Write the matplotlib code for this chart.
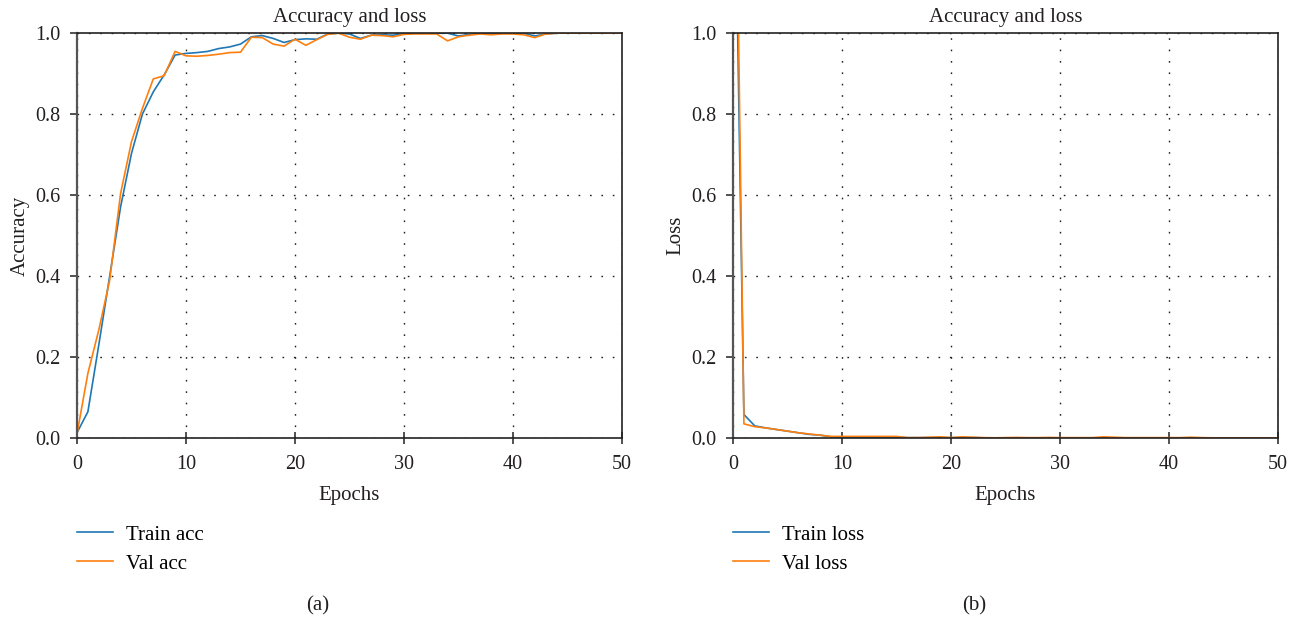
import numpy as np
import matplotlib
matplotlib.use("Agg")
import matplotlib.pyplot as plt

plt.rcParams['font.family'] = ['Liberation Serif', 'DejaVu Serif']

epochs = np.arange(0, 51)

train_acc = [0.013, 0.065, 0.23, 0.40, 0.571, 0.703, 0.80, 0.855, 0.897, 0.946,
             0.950, 0.952, 0.955, 0.962, 0.966, 0.973, 0.991, 0.994, 0.987, 0.977,
             0.984, 0.986, 0.985, 0.998, 1.0, 0.998, 0.987, 0.995, 0.996, 0.995,
             0.999, 1.0, 1.0, 1.0, 1.0, 0.993, 0.997, 1.0, 1.0, 1.0,
             1.0, 1.0, 0.993, 0.998, 1.0, 1.0, 1.0, 1.0, 1.0, 1.0, 1.0]
val_acc = [0.01, 0.16, 0.267, 0.39, 0.604, 0.732, 0.814, 0.887, 0.895, 0.955,
           0.944, 0.943, 0.945, 0.948, 0.952, 0.953, 0.990, 0.989, 0.973, 0.968,
           0.985, 0.970, 0.984, 0.997, 1.0, 0.990, 0.985, 0.995, 0.994, 0.991,
           0.997, 0.998, 0.998, 0.998, 0.981, 0.991, 0.995, 0.998, 0.996, 0.998,
           0.998, 0.996, 0.989, 0.998, 1.0, 1.0, 1.0, 1.0, 1.0, 1.0, 1.0]

train_loss = [1.7, 0.058, 0.030, 0.025, 0.021, 0.017, 0.013, 0.009, 0.007, 0.003,
              0.002, 0.002, 0.002, 0.002, 0.002, 0.002, 0.001, 0.001, 0.001, 0.001,
              0.001, 0.001, 0.001, 0.0005, 0.0005, 0.0005, 0.0005, 0.0005, 0.0005, 0.0005,
              0.0005, 0.0005, 0.0005, 0.0005, 0.0005, 0.0005, 0.0005, 0.0005, 0.0005, 0.0005,
              0.0005, 0.0005, 0.0005, 0.0005, 0.0003, 0.0003, 0.0003, 0.0003, 0.0003, 0.0003, 0.0003]
val_loss = [2.0, 0.035, 0.028, 0.025, 0.021, 0.017, 0.013, 0.010, 0.007, 0.004,
            0.004, 0.004, 0.004, 0.004, 0.004, 0.004, 0.001, 0.001, 0.002, 0.003,
            0.001, 0.003, 0.002, 0.001, 0.0005, 0.001, 0.0015, 0.001, 0.001, 0.0015,
            0.001, 0.001, 0.001, 0.001, 0.003, 0.002, 0.001, 0.001, 0.001, 0.001,
            0.001, 0.001, 0.002, 0.001, 0.0005, 0.0005, 0.0005, 0.0005, 0.0005, 0.0005, 0.0005]

fig = plt.figure(figsize=(13.05, 6.2), dpi=100)
ax1 = fig.add_axes([0.059, 0.2935, 0.4176, 0.653])
ax2 = fig.add_axes([0.5617, 0.2935, 0.4176, 0.653])

panels = [
    (ax1, train_acc, val_acc, "Train acc", "Val acc", "Accuracy", "(a)"),
    (ax2, train_loss, val_loss, "Train loss", "Val loss", "Loss", "(b)"),
]

txt = '#231f20'
for ax, tr, va, ltr, lva, ylab, cap in panels:
    ax.plot(epochs, tr, color='#1f77b4', lw=1.2, label=ltr)
    ax.plot(epochs, va, color='#ff7f0e', lw=1.2, label=lva)
    ax.set_xlim(0, 50)
    ax.set_ylim(0, 1.0)
    ax.set_xticks([0, 10, 20, 30, 40, 50])
    ax.set_yticks([0.0, 0.2, 0.4, 0.6, 0.8, 1.0])
    ax.set_yticklabels(["0.0", "0.2", "0.4", "0.6", "0.8", "1.0"])
    ax.grid(True, color='#222222', linestyle=(0, (1.2, 7)), linewidth=1.0)
    ax.tick_params(axis='y', labelsize=14.5, direction='out', length=5, width=1.2,
                   color='#333333', pad=7, labelcolor=txt)
    ax.tick_params(axis='x', labelsize=14.5, direction='inout', length=9, width=1.2,
                   color='#333333', pad=8, labelcolor=txt)
    ax.tick_params(top=False, right=False)
    for s in ax.spines.values():
        s.set_color('#222222')
        s.set_linewidth(1.2)
    ax.spines['left'].set_color('#555555')
    ax.spines['left'].set_linewidth(1.6)
    ax.set_title("Accuracy and loss", fontsize=15, pad=8, color=txt)
    ax.set_xlabel("Epochs", fontsize=15, labelpad=8, color=txt)
    ax.set_ylabel(ylab, fontsize=15, labelpad=4, color=txt)
    ax.legend(loc='upper left', bbox_to_anchor=(0.0, -0.215), frameon=False,
              fontsize=15, handlelength=1.75, handletextpad=0.62, labelspacing=0.45,
              borderaxespad=0, borderpad=0)
    ax.text(0.442, -0.415, cap, transform=ax.transAxes, fontsize=15,
            ha='center', va='center', color=txt)

fig.savefig("out.png", dpi=100)
